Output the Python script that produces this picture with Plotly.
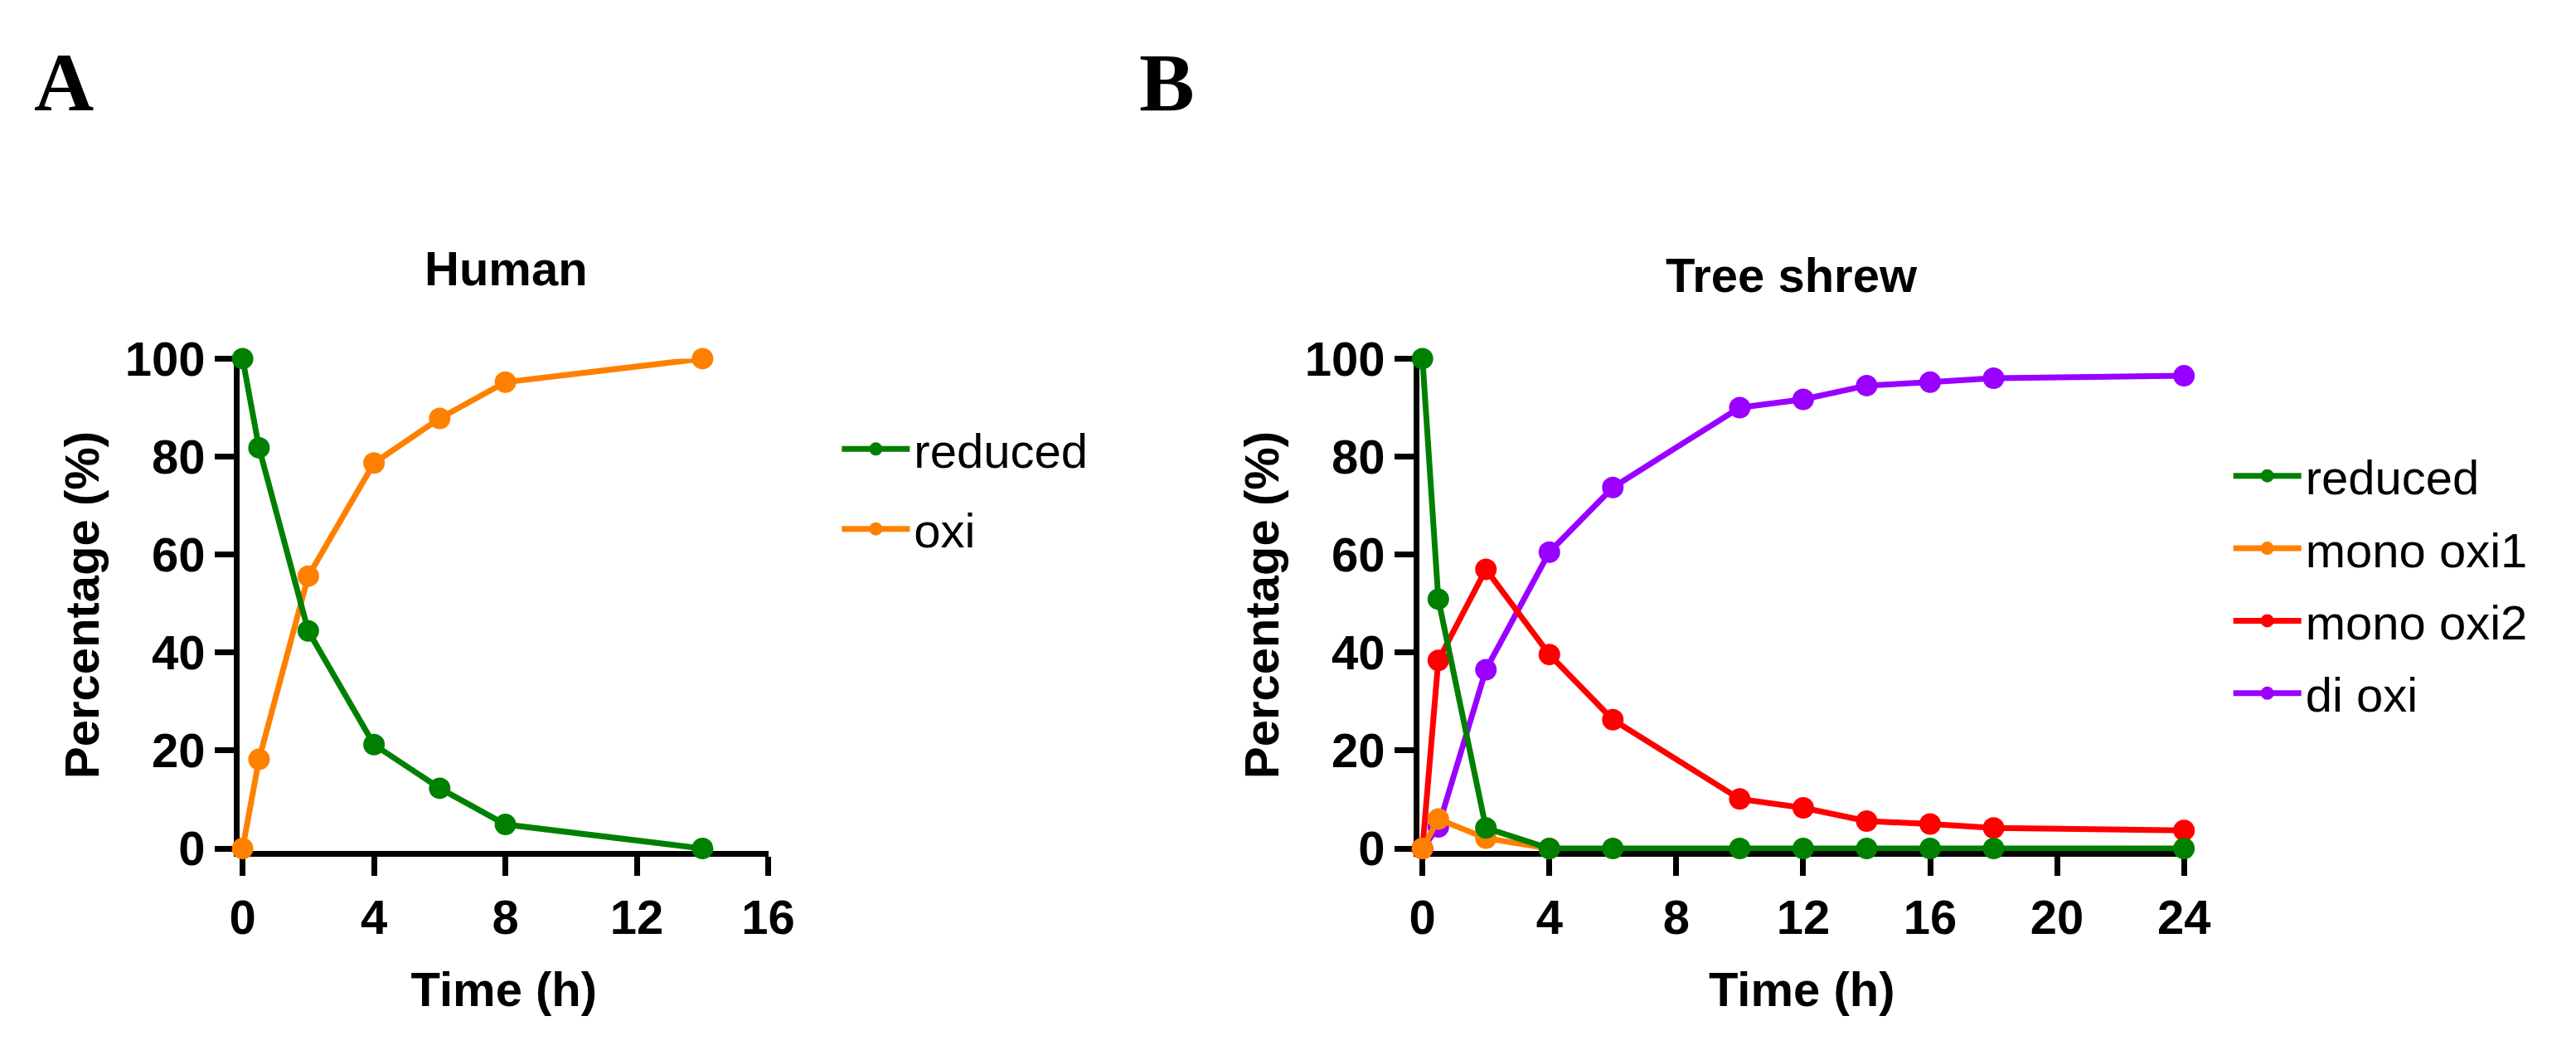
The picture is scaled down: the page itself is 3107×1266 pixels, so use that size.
import plotly.graph_objects as go

# ---------------- data ----------------
human_time = [0, 0.5, 2, 4, 6, 8, 14]
human_reduced = [100, 81.8, 44.4, 21.2, 12.3, 4.9, 0]
human_oxi = [0, 18.2, 55.6, 78.7, 87.8, 95.2, 100]

shrew_time = [0, 0.5, 2, 4, 6, 10, 12, 14, 16, 18, 24]
shrew_reduced = [100, 50.9, 4.2, 0, 0, 0, 0, 0, 0, 0, 0]
shrew_mono_oxi1_time = [0, 0.5, 2, 4]
shrew_mono_oxi1 = [0, 6.0, 2.1, 0]
shrew_mono_oxi2 = [0, 38.4, 57.0, 39.6, 26.3, 10.1, 8.3, 5.6, 5.0, 4.2, 3.7]
shrew_di_oxi = [0, 4.4, 36.5, 60.5, 73.7, 90.0, 91.7, 94.5, 95.2, 96.0, 96.5]

x_ticks_human = [0, 4, 8, 12, 16]
x_ticks_shrew = [0, 4, 8, 12, 16, 20, 24]
y_ticks = [0, 20, 40, 60, 80, 100]

GREEN = "#008000"
ORANGE = "#FF8000"
RED = "#FF0000"
PURPLE = "#9900FF"

W, H = 3107, 1266
FONT = "Liberation Sans, Arial, sans-serif"
LW = 7
MS = 26

fig = go.Figure()


def add(x, y, name, color, xa, ya, legend, rank, gap_group):
    fig.add_trace(go.Scatter(
        x=x, y=y, name=name, mode="lines+markers",
        line=dict(color=color, width=LW),
        marker=dict(color=color, size=MS),
        xaxis=xa, yaxis=ya, legend=legend, legendrank=rank,
        legendgroup=gap_group, cliponaxis=False,
    ))


# drawing order: first series of the legend is drawn last (on top)
add(human_time, human_oxi, "oxi", ORANGE, "x", "y", "legend", 2, "a2")
add(human_time, human_reduced, "reduced", GREEN, "x", "y", "legend", 1, "a1")

add(shrew_time, shrew_di_oxi, "di oxi", PURPLE, "x2", "y2", "legend2", 4, "b4")
add(shrew_time, shrew_mono_oxi2, "mono oxi2", RED, "x2", "y2", "legend2", 3, "b3")
add(shrew_mono_oxi1_time, shrew_mono_oxi1, "mono oxi1", ORANGE, "x2", "y2", "legend2", 2, "b2")
add(shrew_time, shrew_reduced, "reduced", GREEN, "x2", "y2", "legend2", 1, "b1")

half = LW / 2.0
# pixel geometry
ax_x0, ax_x1 = 283.7, 927.0      # x=0 and x=16 (panel A)
bx_x0, bx_x1 = 1727.7, 2659.7    # x=0 and x=24 (panel B)
y0_px, y100_px = 1041.0, 420.0   # y=0 and y=100

ppu_y = (y0_px - y100_px) / 100.0
ppu_ax = (ax_x1 - ax_x0) / 16.0
ppu_bx = (bx_x1 - bx_x0) / 24.0

tickfont = dict(family=FONT, size=58, color="black", weight="bold")
titlefont = dict(family=FONT, size=58, color="black", weight="bold")

common_axis = dict(
    showline=True, linecolor="black", linewidth=LW,
    ticks="outside", ticklen=23, tickwidth=LW, tickcolor="black",
    showgrid=False, zeroline=False, tickfont=tickfont,
    fixedrange=True, layer="below traces",
)

fig.update_layout(
    width=W, height=H, autosize=False,
    margin=dict(l=0, r=0, t=0, b=0),
    paper_bgcolor="white", plot_bgcolor="white",
    showlegend=True,
    xaxis=dict(
        domain=[(ax_x0 - half) / W, ax_x1 / W],
        range=[-half / ppu_ax, 16], tickvals=x_ticks_human,
        title=dict(text="Time (h)", font=titlefont, standoff=38),
        anchor="y", **common_axis),
    yaxis=dict(
        domain=[(H - y0_px - half) / H, (H - y100_px) / H],
        range=[-half / ppu_y, 100], tickvals=y_ticks,
        title=dict(text="Percentage (%)", font=titlefont, standoff=15),
        anchor="x", **common_axis),
    xaxis2=dict(
        domain=[(bx_x0 - half) / W, bx_x1 / W],
        range=[-half / ppu_bx, 24], tickvals=x_ticks_shrew,
        title=dict(text="Time (h)", font=titlefont, standoff=38),
        anchor="y2", **common_axis),
    yaxis2=dict(
        domain=[(H - y0_px - half) / H, (H - y100_px) / H],
        range=[-half / ppu_y, 100], tickvals=y_ticks,
        title=dict(text="Percentage (%)", font=titlefont, standoff=15),
        anchor="x2", **common_axis),
    legend=dict(
        x=1012 / W, y=(H - 488) / H, xanchor="left", yanchor="top",
        font=dict(family=FONT, size=58, color="black"),
        itemwidth=82, tracegroupgap=18, bgcolor="rgba(0,0,0,0)",
        traceorder="grouped",
    ),
    legend2=dict(
        x=2715 / W, y=(H - 522) / H, xanchor="left", yanchor="top",
        font=dict(family=FONT, size=58, color="black"),
        itemwidth=82, tracegroupgap=9, bgcolor="rgba(0,0,0,0)",
        traceorder="grouped",
    ),
    annotations=[
        dict(text="<b>A</b>", x=65 / W, y=(H - 70) / H, xref="paper", yref="paper",
             xanchor="center", yanchor="middle", showarrow=False,
             font=dict(family="Liberation Serif, Times New Roman, serif", size=100, color="black")),
        dict(text="<b>B</b>", x=1415 / W, y=(H - 70) / H, xref="paper", yref="paper",
             xanchor="center", yanchor="middle", showarrow=False,
             font=dict(family="Liberation Serif, Times New Roman, serif", size=100, color="black")),
        dict(text="Human", x=606 / W, y=(H - 305) / H, xref="paper", yref="paper",
             xanchor="center", yanchor="middle", showarrow=False, font=titlefont),
        dict(text="Tree shrew", x=2180 / W, y=(H - 314) / H, xref="paper", yref="paper",
             xanchor="center", yanchor="middle", showarrow=False, font=titlefont),
    ],
)

fig.write_html("out.html", config={"displayModeBar": False},
               post_script="document.body.style.margin='0';")
